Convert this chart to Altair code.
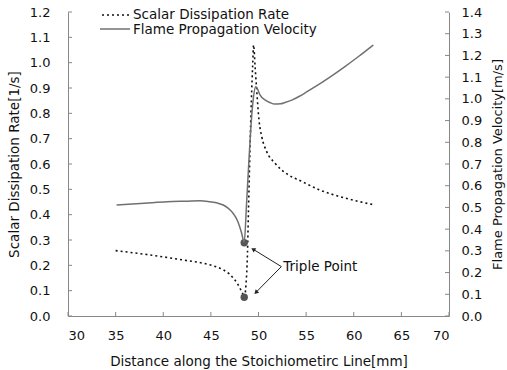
import altair as alt
import pandas as pd

# ---------------- data ----------------
series_names = ["Scalar Dissipation Rate", "Flame Propagation Velocity"]

x_ticks = [30, 35, 40, 45, 50, 55, 60, 65, 70]
left_ticks = [0.0, 0.1, 0.2, 0.3, 0.4, 0.5, 0.6, 0.7, 0.8, 0.9, 1.0, 1.1, 1.2]
right_ticks = [0.0, 0.1, 0.2, 0.3, 0.4, 0.5, 0.6, 0.7, 0.8, 0.9, 1.0, 1.1, 1.2, 1.3, 1.4]

# Scalar dissipation rate [1/s] (left axis)
sdr_x = [35.0, 38.6, 42.1, 44.56, 45.5, 46.3, 46.9, 47.36, 47.75, 48.06, 48.3, 48.5,
         48.8, 48.95, 49.1, 49.25, 49.4, 49.48, 49.65, 49.81, 50.05, 50.34,
         50.86, 51.73, 53.13, 54.5, 56.46, 58.56, 60.2, 62.0]
sdr_y = [0.258, 0.241, 0.221, 0.205, 0.195, 0.182, 0.167, 0.149, 0.130, 0.109, 0.092, 0.074,
         0.20, 0.42, 0.65, 0.85, 1.00, 1.07, 0.98, 0.892, 0.774, 0.708,
         0.649, 0.603, 0.557, 0.532, 0.497, 0.471, 0.455, 0.440]

# Flame propagation velocity [m/s] (right axis)
fpv_x = [35.1, 38.0, 40.4, 42.5, 43.9, 44.9, 45.7, 46.3, 46.8, 47.2, 47.6, 47.9, 48.23, 48.5,
         48.75, 49.0, 49.25, 49.45, 49.7, 49.9, 50.16, 50.68, 51.2, 51.73, 52.3, 52.78,
         53.5, 54.3, 55.1, 56.0, 57.5, 59.0, 60.5, 62.05]
fpv_y = [0.511, 0.519, 0.526, 0.529, 0.531, 0.526, 0.520, 0.511, 0.497, 0.480, 0.455, 0.427, 0.381, 0.339,
         0.52, 0.72, 0.90, 1.00, 1.056, 1.045, 1.018, 0.995, 0.983, 0.976, 0.977, 0.983,
         0.994, 1.012, 1.033, 1.057, 1.100, 1.146, 1.195, 1.248]

# Triple points (left-axis units)
tp_x = [48.5, 48.5]
tp_y = [0.289, 0.074]

# Annotation
annot_text = "Triple Point"
annot_x = [52.6]
annot_y = [0.195]
arrow_from_x = [52.4, 52.4]
arrow_from_y = [0.195, 0.195]
arrow_to_x = [49.5, 49.78]
arrow_to_y = [0.262, 0.095]

# ---------------- encodings ----------------
FONT = "DejaVu Sans"
W, H = 381, 304

x_enc = alt.X("x:Q", scale=alt.Scale(domain=[30, 70], nice=False, zero=False),
              axis=alt.Axis(values=x_ticks, format="d",
                            title="Distance along the Stoichiometirc Line[mm]",
                            labelPadding=13, titlePadding=12))
yl_enc = alt.Y("y:Q", scale=alt.Scale(domain=[0, 1.2], nice=False),
               axis=alt.Axis(values=left_ticks, format=".1f", orient="left",
                             title="Scalar Dissipation Rate[1/s]",
                             labelPadding=18, titlePadding=8))
yr_enc = alt.Y("y:Q", scale=alt.Scale(domain=[0, 1.4], nice=False),
               axis=alt.Axis(values=right_ticks, format=".1f", orient="right",
                             title="Flame Propagation Velocity[m/s]",
                             titleAngle=270, titleBaseline="top", titleFontSize=13,
                             labelPadding=12, titlePadding=10))

sdr_df = pd.DataFrame({"x": sdr_x, "y": sdr_y})
fpv_df = pd.DataFrame({"x": fpv_x, "y": fpv_y})
tp_df = pd.DataFrame({"x": tp_x, "y": tp_y})
arrow_df = pd.DataFrame({"x": arrow_from_x, "y": arrow_from_y,
                         "x2": arrow_to_x, "y2": arrow_to_y})
head1_df = pd.DataFrame({"x": arrow_to_x[:1], "y": arrow_to_y[:1]})
head2_df = pd.DataFrame({"x": arrow_to_x[1:], "y": arrow_to_y[1:]})
annot_df = pd.DataFrame({"x": annot_x, "y": annot_y, "t": [annot_text]})
xt_df = pd.DataFrame({"x": x_ticks})
ylt_df = pd.DataFrame({"y": left_ticks})
yrt_df = pd.DataFrame({"y": right_ticks})

sdr_line = alt.Chart(sdr_df).mark_line(
    color="#111111", strokeWidth=1.6, strokeDash=[2, 3], interpolate="monotone"
).encode(x=x_enc, y=yl_enc)

dots = alt.Chart(tp_df).mark_circle(size=55, color="#555555", opacity=1).encode(x=x_enc, y=yl_enc)

arrows = alt.Chart(arrow_df).mark_rule(color="#222222", strokeWidth=1).encode(
    x=x_enc, y=yl_enc, x2="x2:Q", y2="y2:Q")
head1 = alt.Chart(head1_df).mark_point(shape="triangle", filled=True, size=24,
                                       angle=302, color="#222222", opacity=1).encode(x=x_enc, y=yl_enc)
head2 = alt.Chart(head2_df).mark_point(shape="triangle", filled=True, size=24,
                                       angle=225, color="#222222", opacity=1).encode(x=x_enc, y=yl_enc)
annot = alt.Chart(annot_df).mark_text(font=FONT, fontSize=13.5, align="left",
                                      baseline="middle", color="#111111").encode(
    x=x_enc, y=yl_enc, text="t:N")

xticks = alt.Chart(xt_df).mark_rule(color="#888888").encode(
    x=x_enc, y=alt.value(H), y2=alt.value(H - 4))
ylticks = alt.Chart(ylt_df).mark_rule(color="#888888").encode(
    y=yl_enc, x=alt.value(0), x2=alt.value(4))

left_group = alt.layer(sdr_line, dots, arrows, head1, head2, annot, xticks, ylticks)

fpv_line = alt.Chart(fpv_df).mark_line(
    color="#707070", strokeWidth=1.5, interpolate="monotone"
).encode(x=x_enc, y=yr_enc)
yrticks = alt.Chart(yrt_df).mark_rule(color="#888888").encode(
    y=yr_enc, x=alt.value(W), x2=alt.value(W - 4))

right_group = alt.layer(fpv_line, yrticks)

# manual legend
leg1_df = pd.DataFrame({"t": [series_names[0]]})
leg2_df = pd.DataFrame({"t": [series_names[1]]})
leg1_line = alt.Chart(leg1_df).mark_rule(color="#111111", strokeWidth=1.6, strokeDash=[2, 3]).encode(
    x=alt.value(34), x2=alt.value(61), y=alt.value(3))
leg2_line = alt.Chart(leg2_df).mark_rule(color="#707070", strokeWidth=1.5).encode(
    x=alt.value(32), x2=alt.value(62), y=alt.value(17))
leg1_text = alt.Chart(leg1_df).mark_text(font=FONT, fontSize=13.5, align="left",
                                         baseline="alphabetic", color="#111111").encode(
    x=alt.value(65), y=alt.value(6.5), text="t:N")
leg2_text = alt.Chart(leg2_df).mark_text(font=FONT, fontSize=13.5, align="left",
                                         baseline="alphabetic", color="#111111").encode(
    x=alt.value(65), y=alt.value(21.5), text="t:N")

chart = alt.layer(
    left_group, right_group, leg1_line, leg2_line, leg1_text, leg2_text
).resolve_scale(y="independent").properties(
    width=W, height=H, autosize="none",
    padding={"left": 68, "top": 12, "right": 58, "bottom": 54},
).configure_view(stroke=None).configure_axis(
    grid=False, ticks=False, tickSize=0, domainColor="#888888", domainWidth=1,
    labelFont=FONT, labelFontSize=13, labelColor="#111111",
    titleFont=FONT, titleFontSize=13.5, titleFontWeight="normal", titleColor="#111111",
).configure_legend(disable=True)

chart.save("out.html", embed_options={"renderer": "svg", "actions": False})
